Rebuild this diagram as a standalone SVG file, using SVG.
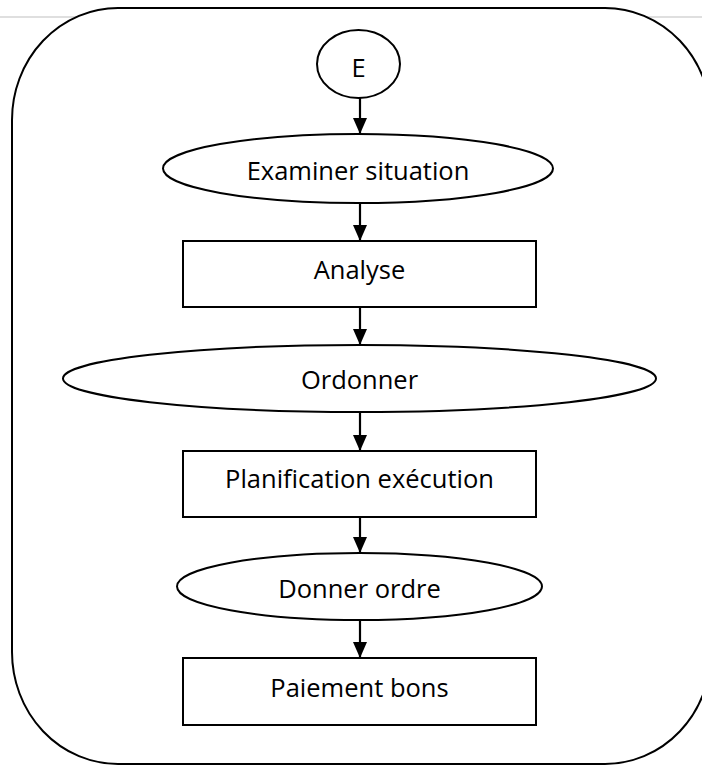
<svg xmlns="http://www.w3.org/2000/svg" width="702" height="765" viewBox="0 0 702 765">
  <style>
    .shape { fill: #ffffff; stroke: #000000; stroke-width: 2; }
    .frame { fill: #ffffff; stroke: #000000; stroke-width: 2; }
    .label { font-family: "Open Sans", "Liberation Sans", sans-serif; font-size: 25.5px; fill: #000000; text-anchor: middle; }
    .link { stroke: #000000; stroke-width: 2.2; fill: none; marker-end: url(#arrow); }
  </style>
  <defs>
    <!-- filled triangular arrowhead; tip sits on the line end -->
    <marker id="arrow" viewBox="0 0 16 14" refX="16" refY="7" markerWidth="16" markerHeight="14" markerUnits="userSpaceOnUse" orient="auto">
      <path d="M0,0 L16,7 L0,14 Z" fill="#000000"/>
    </marker>
  </defs>

  <!-- thin page rule behind the frame -->
  <line x1="0" y1="17" x2="702" y2="17" stroke="#d4d4d4" stroke-width="1.5"/>

  <!-- outer rounded frame -->
  <g id="frame">
    <rect class="frame" x="12" y="8" width="699" height="756" rx="106" ry="112"/>
  </g>

  <!-- connectors -->
  <g id="connectors">
    <line class="link" x1="360" y1="98" x2="360" y2="134"/>
    <line class="link" x1="360" y1="203" x2="360" y2="241"/>
    <line class="link" x1="360" y1="307" x2="360" y2="345"/>
    <line class="link" x1="360" y1="412" x2="360" y2="451"/>
    <line class="link" x1="360" y1="517" x2="360" y2="553"/>
    <line class="link" x1="360" y1="620" x2="360" y2="658"/>
  </g>

  <g id="start">
    <ellipse class="shape" cx="358.5" cy="64" rx="41.5" ry="34"/>
    <text class="label" x="358.5" y="77">E</text>
  </g>

  <g id="examiner">
    <ellipse class="shape" cx="358" cy="168.5" rx="195" ry="34.5"/>
    <text class="label" x="358" y="180">Examiner situation</text>
  </g>

  <g id="analyse">
    <rect class="shape" x="183" y="241" width="353" height="66"/>
    <text class="label" x="359.5" y="279">Analyse</text>
  </g>

  <g id="ordonner">
    <ellipse class="shape" cx="359.5" cy="378.5" rx="296.5" ry="33.5"/>
    <text class="label" x="359.5" y="389">Ordonner</text>
  </g>

  <g id="planification">
    <rect class="shape" x="183" y="451" width="353" height="66"/>
    <text class="label" x="359.5" y="488">Planification exécution</text>
  </g>

  <g id="donner">
    <ellipse class="shape" cx="359.5" cy="586.5" rx="182.5" ry="33.5"/>
    <text class="label" x="359.5" y="598">Donner ordre</text>
  </g>

  <g id="paiement">
    <rect class="shape" x="183" y="658" width="353" height="67"/>
    <text class="label" x="359.5" y="697">Paiement bons</text>
  </g>
</svg>
